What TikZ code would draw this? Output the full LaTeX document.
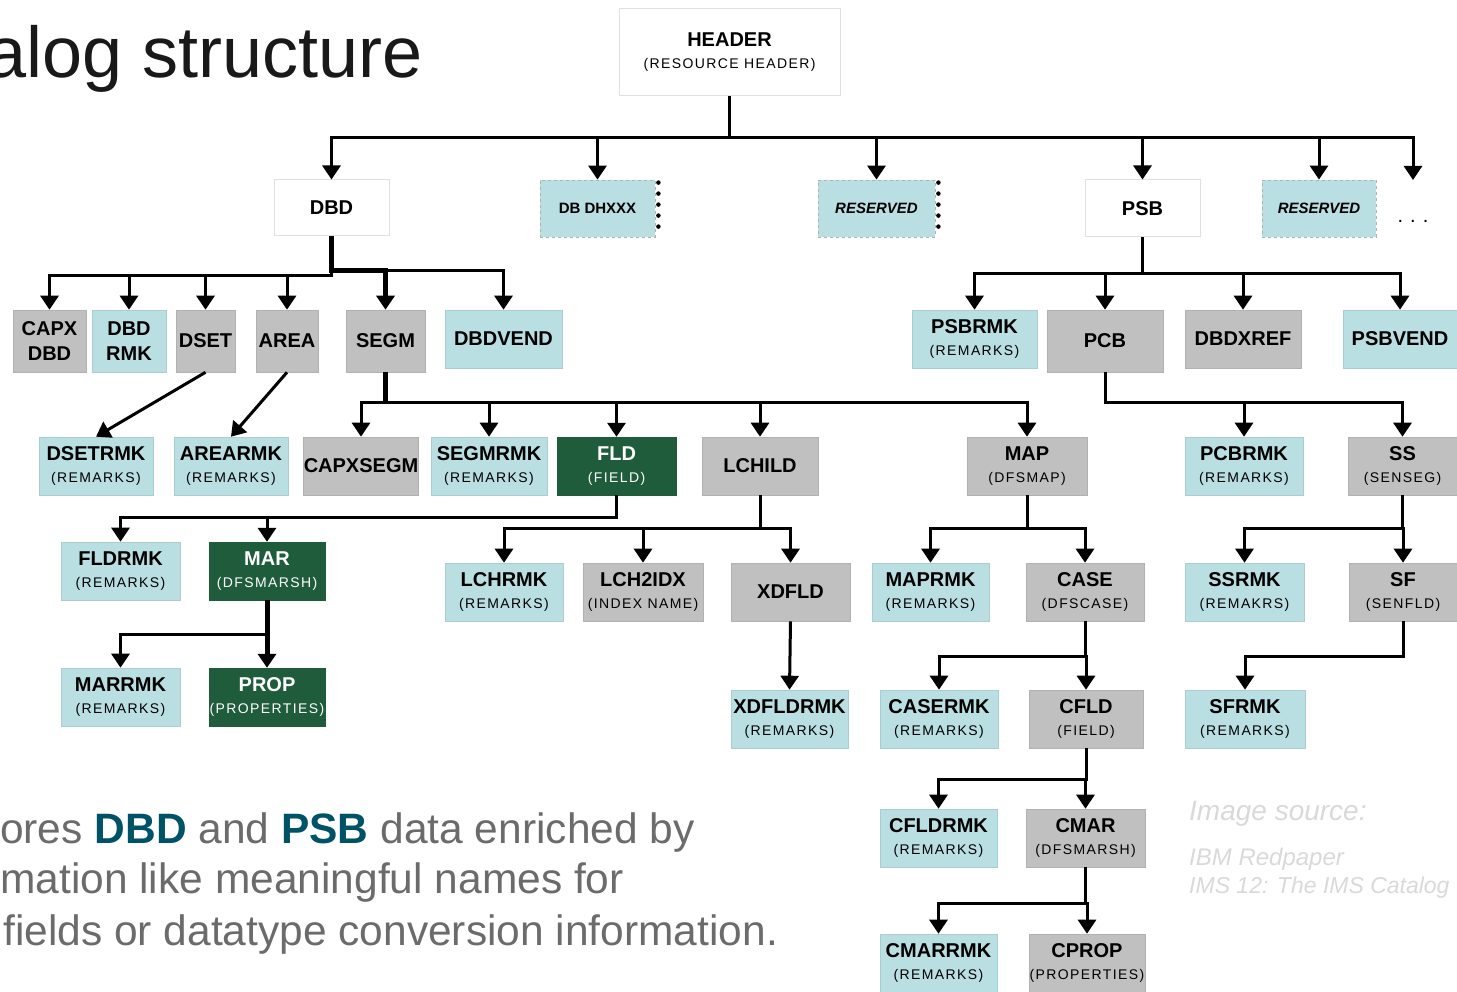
\documentclass[tikz,border=0pt]{standalone}
\usepackage{fontspec}
\setmainfont{Liberation Sans}
\newfontfamily\subfont{Liberation Sans}[LetterSpace=10]
\usetikzlibrary{positioning}
\usetikzlibrary{calc}
\usetikzlibrary{arrows.meta}
\newcommand{\drawcolor}{black}
\newcommand{\bgcolor}{white}
\definecolor{remarkfill}{HTML}{B9DFE2}
\definecolor{segmentfill}{HTML}{C0C0C0}
\definecolor{fieldfill}{HTML}{1F5C3B}
\definecolor{accent}{HTML}{005266}
\colorlet{boxborder}{\drawcolor!12!\bgcolor}
\colorlet{bodytext}{\drawcolor!58!\bgcolor}
\colorlet{sourcetext}{\drawcolor!15!\bgcolor}
\newcommand{\segname}[1]{{\bfseries #1}}
\newcommand{\segnote}[1]{{\subfont\fontsize{14}{16}\selectfont #1}}
\tikzstyle{segment}=[align=center, inner sep=0pt, font=\fontsize{20}{22}\selectfont, text=\drawcolor, minimum height=58pt]
\tikzstyle{whitemodule}=[segment, fill=\bgcolor, draw=boxborder, line width=1pt]
\tikzstyle{bluemodule}=[segment, fill=remarkfill, draw=remarkfill!92!black, line width=0.6pt]
\tikzstyle{graymodule}=[segment, fill=segmentfill, draw=segmentfill!92!black, line width=0.6pt]
\tikzstyle{greenmodule}=[segment, fill=fieldfill, draw=fieldfill, text=\bgcolor]
\tikzstyle{reservedmodule}=[segment, fill=remarkfill, draw=\drawcolor!30!\bgcolor, dashed, line width=0.8pt, minimum height=57pt, font=\fontsize{15}{17}\selectfont]
\tikzstyle{connector}=[\drawcolor, -{Triangle[width=18pt, length=14pt]}, line width=3pt]
\tikzstyle{heavyconnector}=[connector, line width=5pt]
\tikzstyle{dotedge}=[\drawcolor, line width=4.5pt, line cap=round, dash pattern=on 0pt off 11pt]
\tikzstyle{prose}=[anchor=base west, inner sep=0pt, text=bodytext, font=\fontsize{42.5}{51}\selectfont]
\tikzstyle{source}=[anchor=base west, inner sep=0pt, text=sourcetext, font=\fontsize{24}{28}\selectfont\itshape]

\begin{document}
\begin{tikzpicture}[x=1pt, y=-1pt]
    \useasboundingbox (0, 0) rectangle (1457, 992);

    \node[anchor=base east, inner sep=0pt, text=\drawcolor!90!\bgcolor, font=\fontsize{72}{72}\selectfont] at (423, 78) (title) {alog structure};

    \node[whitemodule, minimum width=221pt, minimum height=87pt] at (729.5, 52.5) (header) {\segname{HEADER}\\\segnote{(RESOURCE HEADER)}};

    % Level 1
    \node[whitemodule, minimum width=115pt, minimum height=56pt] at (331.5, 208) (dbd) {\segname{DBD}};
    \node[reservedmodule, minimum width=115pt] at (597.5, 208.5) (dbdhxxx) {\segname{DB DHXXX}};
    \node[reservedmodule, minimum width=117pt] at (876.5, 208.5) (reservedA) {\segname{\itshape RESERVED}};
    \node[whitemodule, minimum width=115pt, minimum height=57pt] at (1142.5, 208.5) (psb) {\segname{PSB}};
    \node[reservedmodule, minimum width=114pt] at (1319, 208.5) (reservedB) {\segname{\itshape RESERVED}};
    \node[anchor=base, inner sep=0pt, font=\fontsize{20}{20}\selectfont] at (1413, 223) (more) {.\hspace{7pt}.\hspace{7pt}.};
    \coordinate (moreTop) at (1413, 180);

    \draw[dotedge] ($(dbdhxxx.north east) + (3, 3)$) -- ($(dbdhxxx.south east) + (3, -2)$);
    \draw[dotedge] ($(reservedA.north east) + (3, 3)$) -- ($(reservedA.south east) + (3, -2)$);

    % DBD segments
    \node[graymodule, minimum width=73pt, minimum height=62pt] at (49.5, 341) (capxDbd) {\segname{CAPX}\\[3pt]\segname{DBD}};
    \node[bluemodule, minimum width=74pt, minimum height=62pt] at (129, 341) (dbdRmk) {\segname{DBD}\\[3pt]\segname{RMK}};
    \node[graymodule, minimum width=59pt, minimum height=62pt] at (205.5, 341) (dset) {\segname{DSET}};
    \node[graymodule, minimum width=62pt, minimum height=62pt] at (287, 341) (area) {\segname{AREA}};
    \node[graymodule, minimum width=79pt, minimum height=62pt] at (385.5, 341) (segm) {\segname{SEGM}};
    \node[bluemodule, minimum width=117pt] at (503.5, 339) (dbdVend) {\segname{DBDVEND}};

    \node[bluemodule, minimum width=114pt] at (96, 466) (dsetRmk) {\segname{DSETRMK}\\\segnote{(REMARKS)}};
    \node[bluemodule, minimum width=114pt] at (231, 466) (areaRmk) {\segname{AREARMK}\\\segnote{(REMARKS)}};
    \node[graymodule, minimum width=114pt] at (361, 466) (capxSegm) {\segname{CAPXSEGM}};
    \node[bluemodule, minimum width=116pt] at (489, 466) (segmRmk) {\segname{SEGMRMK}\\\segnote{(REMARKS)}};
    \node[greenmodule, minimum width=119pt] at (616.5, 466) (fld) {\segname{FLD}\\\segnote{(FIELD)}};
    \node[graymodule, minimum width=116pt] at (760, 466) (lchild) {\segname{LCHILD}};
    \node[graymodule, minimum width=120pt] at (1027, 466) (map) {\segname{MAP}\\\segnote{(DFSMAP)}};

    \node[bluemodule, minimum width=119pt] at (120.5, 571) (fldRmk) {\segname{FLDRMK}\\\segnote{(REMARKS)}};
    \node[greenmodule, minimum width=116pt] at (267, 571) (mar) {\segname{MAR}\\\segnote{(DFSMARSH)}};
    \node[bluemodule, minimum width=119pt] at (120.5, 697) (marRmk) {\segname{MARRMK}\\\segnote{(REMARKS)}};
    \node[greenmodule, minimum width=116pt] at (267, 697) (prop) {\segname{PROP}\\\segnote{(PROPERTIES)}};

    \node[bluemodule, minimum width=118pt] at (504, 592) (lchRmk) {\segname{LCHRMK}\\\segnote{(REMARKS)}};
    \node[graymodule, minimum width=120pt] at (643, 592) (lch2idx) {\segname{LCH2IDX}\\\segnote{(INDEX NAME)}};
    \node[graymodule, minimum width=119pt] at (790.5, 592) (xdfld) {\segname{XDFLD}};
    \node[bluemodule, minimum width=117pt] at (789.5, 719) (xdfldRmk) {\segname{XDFLDRMK}\\\segnote{(REMARKS)}};

    \node[bluemodule, minimum width=117pt] at (930.5, 592) (mapRmk) {\segname{MAPRMK}\\\segnote{(REMARKS)}};
    \node[graymodule, minimum width=118pt] at (1085, 592) (caseSeg) {\segname{CASE}\\\segnote{(DFSCASE)}};
    \node[bluemodule, minimum width=118pt] at (939, 719) (caseRmk) {\segname{CASERMK}\\\segnote{(REMARKS)}};
    \node[graymodule, minimum width=114pt] at (1086, 719) (cfld) {\segname{CFLD}\\\segnote{(FIELD)}};
    \node[bluemodule, minimum width=117pt] at (938.5, 838) (cfldRmk) {\segname{CFLDRMK}\\\segnote{(REMARKS)}};
    \node[graymodule, minimum width=119pt] at (1085.5, 838) (cmar) {\segname{CMAR}\\\segnote{(DFSMARSH)}};
    \node[bluemodule, minimum width=117pt] at (938.5, 963) (cmarRmk) {\segname{CMARRMK}\\\segnote{(REMARKS)}};
    \node[graymodule, minimum width=116pt] at (1087, 963) (cprop) {\segname{CPROP}\\\segnote{(PROPERTIES)}};

    % PSB segments
    \node[bluemodule, minimum width=125pt] at (974.5, 339) (psbRmk) {\segname{PSBRMK}\\\segnote{(REMARKS)}};
    \node[graymodule, minimum width=116pt, minimum height=62pt] at (1105, 341) (pcb) {\segname{PCB}};
    \node[graymodule, minimum width=116pt] at (1243, 339) (dbdXref) {\segname{DBDXREF}};
    \node[bluemodule, minimum width=114pt] at (1400, 339) (psbVend) {\segname{PSBVEND}};

    \node[bluemodule, minimum width=118pt] at (1244, 466) (pcbRmk) {\segname{PCBRMK}\\\segnote{(REMARKS)}};
    \node[graymodule, minimum width=109pt] at (1402.5, 466) (ss) {\segname{SS}\\\segnote{(SENSEG)}};
    \node[bluemodule, minimum width=119pt] at (1244.5, 592) (ssRmk) {\segname{SSRMK}\\\segnote{(REMAKRS)}};
    \node[graymodule, minimum width=108pt] at (1403, 592) (sf) {\segname{SF}\\\segnote{(SENFLD)}};
    \node[bluemodule, minimum width=120pt] at (1245, 719) (sfRmk) {\segname{SFRMK}\\\segnote{(REMARKS)}};

    % Text
    \node[prose] at (0, 843) (descA) {ores \textbf{\textcolor{accent}{DBD}} and \textbf{\textcolor{accent}{PSB}} data enriched by};
    \node[prose] at (0, 893) (descB) {mation like meaningful names for};
    \node[prose] at (3, 945) (descC) {fields or datatype conversion information.};

    \node[source, font=\fontsize{28}{30}\selectfont\itshape] at (1189, 820) (sourceTitle) {Image source:};
    \node[source] at (1189, 865) (sourceA) {IBM Redpaper};
    \node[source, font=\fontsize{23}{28}\selectfont\itshape] at (1189, 893) (sourceB) {IMS 12: The IMS Catalog};

    % Arrows
    \draw[connector] (header.south) -- ($(header.south) + (0, 41)$) -| (dbd.north);
    \draw[connector] (header.south) -- ($(header.south) + (0, 41)$) -| (dbdhxxx.north);
    \draw[connector] (header.south) -- ($(header.south) + (0, 41)$) -| (reservedA.north);
    \draw[connector] (header.south) -- ($(header.south) + (0, 41)$) -| (psb.north);
    \draw[connector] (header.south) -- ($(header.south) + (0, 41)$) -| (reservedB.north);
    \draw[connector] (header.south) -- ($(header.south) + (0, 41)$) -| (moreTop);

    \draw[connector] (dbd.south) -- ($(dbd.south) + (0, 39)$) -| (capxDbd.north);
    \draw[connector] (dbd.south) -- ($(dbd.south) + (0, 39)$) -| (dbdRmk.north);
    \draw[connector] (dbd.south) -- ($(dbd.south) + (0, 39)$) -| (dset.north);
    \draw[connector] (dbd.south) -- ($(dbd.south) + (0, 39)$) -| (area.north);
    \draw[heavyconnector] (dbd.south) -- ($(dbd.south) + (0, 34)$) -| (segm.north);
    \draw[connector] (dbd.south) -- ($(dbd.south) + (0, 34)$) -| (dbdVend.north);

    \draw[connector] (dset.south) -- (dsetRmk.north);
    \draw[connector] (area.south) -- (areaRmk.north);

    \draw[\drawcolor, line width=5pt] (segm.south) -- ($(segm.south) + (0, 30)$);
    \draw[connector] (segm.south) -- ($(segm.south) + (0, 30)$) -| (capxSegm.north);
    \draw[connector] (segm.south) -- ($(segm.south) + (0, 30)$) -| (segmRmk.north);
    \draw[connector] (segm.south) -- ($(segm.south) + (0, 30)$) -| (fld.north);
    \draw[connector] (segm.south) -- ($(segm.south) + (0, 30)$) -| (lchild.north);
    \draw[connector] (segm.south) -- ($(segm.south) + (0, 30)$) -| (map.north);

    \draw[connector] (fld.south) -- ($(fld.south) + (0, 22)$) -| (fldRmk.north);
    \draw[connector] (fld.south) -- ($(fld.south) + (0, 22)$) -| (mar.north);
    \draw[connector] (mar.south) -- ($(mar.south) + (0, 34)$) -| (marRmk.north);
    \draw[heavyconnector] (mar.south) -- (prop.north);

    \draw[connector] (lchild.south) -- ($(lchild.south) + (0, 33)$) -| (lchRmk.north);
    \draw[connector] (lchild.south) -- ($(lchild.south) + (0, 33)$) -| (lch2idx.north);
    \draw[connector] (lchild.south) -- ($(lchild.south) + (0, 33)$) -| (xdfld.north);
    \draw[connector] (xdfld.south) -- (xdfldRmk.north);

    \draw[connector] (map.south) -- ($(map.south) + (0, 33)$) -| (mapRmk.north);
    \draw[connector] (map.south) -- ($(map.south) + (0, 33)$) -| (caseSeg.north);
    \draw[connector] (caseSeg.south) -- ($(caseSeg.south) + (0, 35)$) -| (caseRmk.north);
    \draw[connector] (caseSeg.south) -- ($(caseSeg.south) + (0, 35)$) -| (cfld.north);
    \draw[connector] (cfld.south) -- ($(cfld.south) + (0, 31)$) -| (cfldRmk.north);
    \draw[connector] (cfld.south) -- ($(cfld.south) + (0, 31)$) -| (cmar.north);
    \draw[connector] (cmar.south) -- ($(cmar.south) + (0, 36)$) -| (cmarRmk.north);
    \draw[connector] (cmar.south) -- ($(cmar.south) + (0, 36)$) -| (cprop.north);

    \draw[connector] (psb.south) -- ($(psb.south) + (0, 36)$) -| (psbRmk.north);
    \draw[connector] (psb.south) -- ($(psb.south) + (0, 36)$) -| (pcb.north);
    \draw[connector] (psb.south) -- ($(psb.south) + (0, 36)$) -| (dbdXref.north);
    \draw[connector] (psb.south) -- ($(psb.south) + (0, 36)$) -| (psbVend.north);

    \draw[connector] (pcb.south) -- ($(pcb.south) + (0, 30)$) -| (pcbRmk.north);
    \draw[connector] (pcb.south) -- ($(pcb.south) + (0, 30)$) -| (ss.north);
    \draw[connector] (ss.south) -- ($(ss.south) + (0, 33)$) -| (ssRmk.north);
    \draw[connector] (ss.south) -- ($(ss.south) + (0, 33)$) -| (sf.north);
    \draw[connector] (sf.south) -- ($(sf.south) + (0, 35)$) -| (sfRmk.north);

\end{tikzpicture}
\end{document}
